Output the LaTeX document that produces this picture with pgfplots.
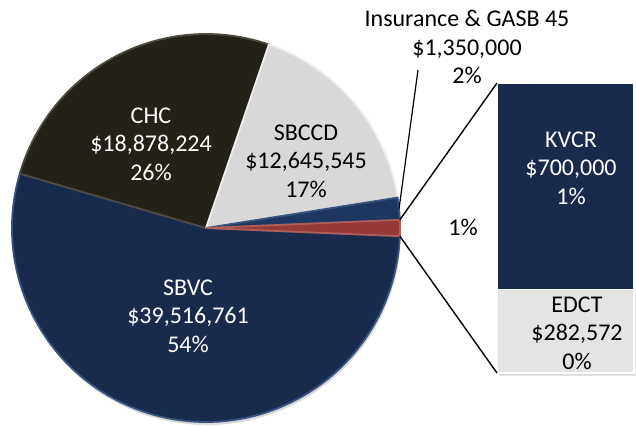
\documentclass[border=0pt]{standalone}
\usepackage{pgfplots}
\pgfplotsset{compat=1.18}
\usepackage{fontspec}
\setmainfont{Carlito}
\usetikzlibrary{shadows}

\definecolor{navy}{RGB}{24,43,76}
\definecolor{navyedge}{RGB}{56,84,128}
\definecolor{insblue}{RGB}{30,55,96}
\definecolor{chcbrown}{RGB}{36,33,25}
\definecolor{chcedge}{RGB}{78,74,64}
\definecolor{sbccdgray}{RGB}{216,216,216}
\definecolor{grayedge}{RGB}{238,238,238}
\definecolor{edctgray}{RGB}{228,228,228}
\definecolor{otherred}{RGB}{150,58,56}
\definecolor{rededge}{RGB}{176,92,88}

% budget values (dollars)
\def\vSBVC{39516761}
\def\vCHC{18878224}
\def\vSBCCD{12645545}
\def\vINS{1350000}
\def\vKVCR{700000}
\def\vEDCT{282572}

% slice angles: "other" (KVCR+EDCT) centred on 0 deg, then counter-clockwise
\edef\vOTH{\fpeval{\vKVCR+\vEDCT}}
\edef\tot{\fpeval{\vSBVC+\vCHC+\vSBCCD+\vINS+\vOTH}}
\edef\aA{\fpeval{round(-180*\vOTH/\tot,3)}}
\edef\aB{\fpeval{round(\aA+360*\vOTH/\tot,3)}}
\edef\aC{\fpeval{round(\aB+360*\vINS/\tot,3)}}
\edef\aD{\fpeval{round(\aC+360*\vSBCCD/\tot,3)}}
\edef\aE{\fpeval{round(\aD+360*\vCHC/\tot,3)}}
\edef\aF{\fpeval{round(\aA+360,3)}}
\edef\aIns{\fpeval{round((\aB+\aC)/2,3)}}

% start angle, end angle, fill, edge
\newcommand{\slice}[4]{%
  \filldraw[fill=#3, draw=#4, line width=0.9pt, line join=round]
    (axis cs:206,197) -- ++(#1:97pt)
    arc[start angle=#1, end angle=#2, radius=97pt] -- cycle;}

\tikzset{lbl/.style={align=center, font=\fontsize{12}{14.2}\selectfont, inner sep=0pt}}

\begin{document}
\begin{tikzpicture}
\useasboundingbox (0,0) rectangle (318pt,212.5pt);

% bar of pie
\begin{axis}[at={(248.5pt,26pt)}, anchor=south west,
  width=68.5pt, height=145pt, scale only axis,
  xmin=-0.5, xmax=0.5, ymin=0, ymax=982572,
  hide axis, clip=false,
  ybar stacked, bar width=1]
\addplot[fill=edctgray, draw=white, line width=0.8pt,
  drop shadow={opacity=0.3, shadow xshift=1pt, shadow yshift=-1.5pt}]
  coordinates {(0,282572)};
\addplot[fill=navy, draw=white, line width=0.8pt]
  coordinates {(0,700000)};
\end{axis}

% pie, connectors and all labels (pixel-like units)
\begin{axis}[at={(0pt,0pt)}, anchor=south west,
  width=318pt, height=212.5pt, scale only axis,
  xmin=0, xmax=636, ymin=0, ymax=425,
  hide axis, clip=false]
\path[fill=white, drop shadow={opacity=0.3, shadow xshift=0.5pt, shadow yshift=-1.5pt}]
  (axis cs:206,197) circle[radius=97pt];
\slice{\aE}{\aF}{navy}{navyedge}
\slice{\aD}{\aE}{chcbrown}{chcedge}
\slice{\aC}{\aD}{sbccdgray}{grayedge}
\slice{\aB}{\aC}{insblue}{navyedge}
\slice{\aA}{\aB}{otherred}{rededge}

\draw[line width=0.7pt] (axis cs:206,197) ++(\aB:97pt) -- (axis cs:497,342);
\draw[line width=0.7pt] (axis cs:206,197) ++(\aA:97pt) -- (axis cs:497,52);
\draw[line width=0.6pt] (axis cs:206,197) ++(\aIns:97pt) -- (axis cs:418,355);

\node[lbl, text=white] at (axis cs:151,281) {CHC\\\$18,878,224\\26\%};
\node[lbl] at (axis cs:306,264) {SBCCD\\\$12,645,545\\17\%};
\node[lbl, text=white] at (axis cs:188,109) {SBVC\\\$39,516,761\\54\%};
\node[lbl] at (axis cs:467,378) {Insurance \& GASB 45\\\$1,350,000\\2\%};
\node[lbl] at (axis cs:463,198) {1\%};
\node[lbl, text=white] at (axis cs:571,257) {KVCR\\\$700,000\\1\%};
\node[lbl] at (axis cs:577,92) {EDCT\\\$282,572\\0\%};
\end{axis}
\end{tikzpicture}
\end{document}
